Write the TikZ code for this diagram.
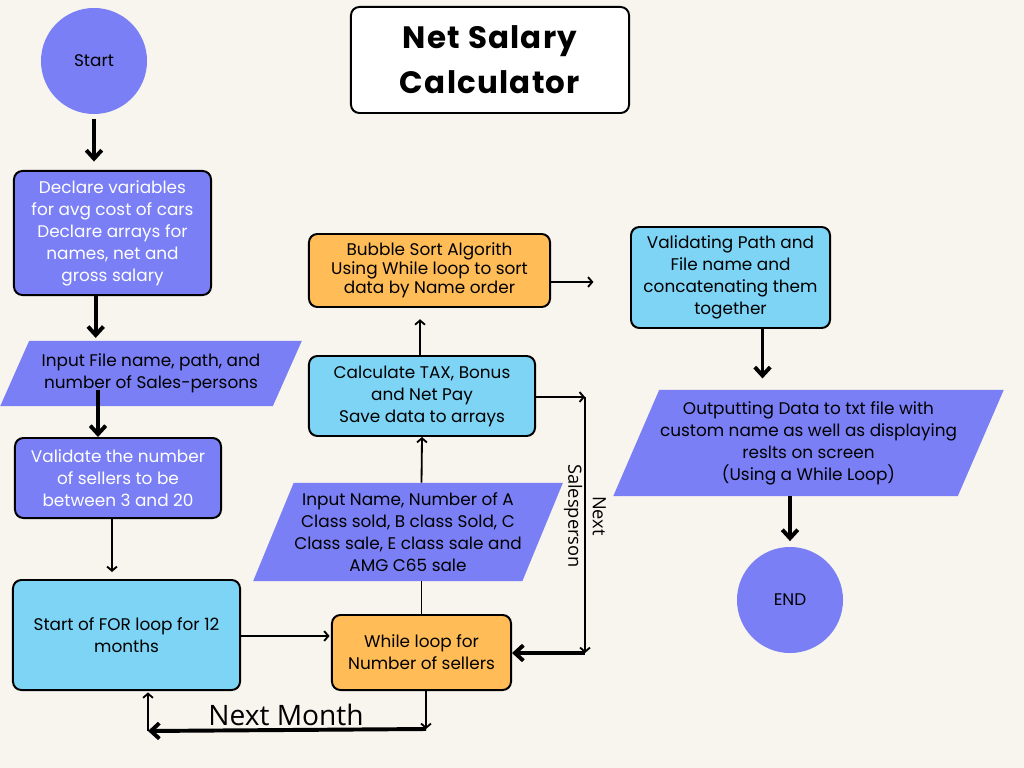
\documentclass[tikz,border=0pt]{standalone}
\usepackage{fontspec}
\setmainfont{Poppins}
\newfontfamily\titlefont[LetterSpace=4]{Poppins}
\newfontfamily\labelfont{Open Sans}
\usepackage{xcolor}
\usetikzlibrary{shapes.geometric, arrows.meta}

\definecolor{paper}{HTML}{F8F4EE}
\definecolor{periwinkle}{HTML}{7A7FF5}
\definecolor{skyblue}{HTML}{7DD4F5}
\definecolor{mango}{HTML}{FFBC57}

\begin{document}
\begin{tikzpicture}[x=0.025cm, y=-0.025cm, font=\fontsize{12}{15.6}\selectfont,
 terminal/.style = {circle, fill=periwinkle, minimum size=2.65cm, inner sep=0pt},
 process/.style = {draw, line width=1.4pt, rounded corners=6pt, align=center, inner sep=2pt},
 io/.style = {trapezium, trapezium stretches=true, fill=periwinkle, align=center, inner sep=0pt},
 thickarrow/.style = {line width=2.8pt, -{Straight Barb[length=6pt,width=11pt]}},
 thinarrow/.style = {line width=1.3pt, -{Straight Barb[length=3pt,width=7pt]}},
 flow/.style = {line width=1.3pt}]
\path[use as bounding box, fill=paper] (0,0) rectangle (1024,768);

\node[terminal] (start) at (94,61) {Start};
\node[process, fill=white, minimum width=6.95cm, minimum height=2.65cm,
  font=\titlefont\bfseries\fontsize{22}{32}\selectfont] (title) at (490,60) {Net Salary\\Calculator};
\node[process, fill=periwinkle, text=white, minimum width=4.925cm, minimum height=3.1cm] (declare) at (112.5,233)
  {Declare variables\\for avg cost of cars\\Declare arrays for\\names, net and\\gross salary};
\node[io, trapezium left angle=56.5, trapezium right angle=123.5, minimum width=7.55cm, minimum height=1.625cm] (inputfile) at (151,373.5)
  {Input File name, path, and\\number of Sales-persons};
\node[process, fill=periwinkle, text=white, minimum width=5.15cm, minimum height=2cm] (validate) at (118,478)
  {Validate the number\\of sellers to be\\between 3 and 20};
\node[process, fill=skyblue, minimum width=5.675cm, minimum height=2.75cm] (forloop) at (126.5,635)
  {Start of FOR loop for 12\\months};
\node[process, fill=mango, minimum width=4.475cm, minimum height=1.875cm] (whileloop) at (421.5,652.5)
  {While loop for\\Number of sellers};
\node[io, trapezium left angle=63, trapezium right angle=117, minimum width=7.75cm, minimum height=2.45cm] (inputsale) at (408,532)
  {Input Name, Number of A\\Class sold, B class Sold, C\\Class sale, E class sale and\\AMG C65 sale};
\node[process, fill=skyblue, minimum width=5.65cm, minimum height=2cm] (calc) at (422,396)
  {Calculate TAX, Bonus\\and Net Pay\\Save data to arrays};
\node[process, fill=mango, minimum width=6.025cm, minimum height=1.825cm, font=\fontsize{12}{13.6}\selectfont] (bubble) at (429.5,270.5)
  {Bubble Sort Algorith\\Using While loop to sort\\data by Name order};
\node[process, fill=skyblue, minimum width=4.975cm, minimum height=2.525cm] (validpath) at (730.5,277.5)
  {Validating Path and\\File name and\\concatenating them\\together};
\node[io, trapezium left angle=61.3, trapezium right angle=118.7, minimum width=9.775cm, minimum height=2.65cm] (output) at (808.5,443)
  {Outputting Data to txt file with\\custom name as well as displaying\\reslts on screen\\(Using a While Loop)};
\node[terminal] (endnode) at (790,600) {END};

\coordinate (ns1) at (585,397);
\coordinate (ns2) at (585,653);
\coordinate (nm1) at (426,729);
\coordinate (nm2) at (148,731);

\draw[thickarrow, shorten <=3pt, shorten >=6pt] (start.south) -- (start.south |- declare.north);
\draw[thickarrow, shorten >=2pt] ([xshift=-0.42cm]declare.south) -- ([xshift=-0.42cm]declare.south |- inputfile.north);
\draw[thickarrow] ([xshift=-0.5cm]validate.north |- 0,390) -- ([xshift=-0.5cm]validate.north);
\draw[thinarrow, shorten >=5pt] ([xshift=-0.15cm]validate.south) -- ([xshift=-0.15cm]validate.south |- forloop.north);
\draw[thinarrow, shorten >=1pt] (forloop.east |- 0,636) -- (whileloop.west |- 0,636);
\draw[flow] (whileloop.north) -- (whileloop.north |- inputsale.south);
\draw[thinarrow] (whileloop.north |- inputsale.north) -- (calc.south);
\draw[thinarrow, shorten >=8pt] ([xshift=-0.05cm]calc.north) -- ([xshift=-0.05cm]calc.north |- bubble.south);
\draw[thinarrow, shorten >=26pt] (bubble.east |- 0,282) -- (validpath.west |- 0,282);
\draw[thickarrow, shorten >=8pt] ([xshift=0.8cm]validpath.south) -- ([xshift=0.8cm]validpath.south |- output.north);
\draw[thickarrow, shorten >=4pt] (endnode.north |- output.south) -- (endnode.north);

% next salesperson loop
\draw[thinarrow] (calc.east |- ns1) -- (ns1);
\draw[thinarrow] (ns1) -- (ns2);
\draw[thickarrow] (ns2) -- (whileloop.east |- ns2);
\node[rotate=-90, align=center, font=\labelfont\fontsize{13}{17.5}\selectfont] (nslabel) at (585,516) {Next\\Salesperson};

% next month loop
\draw[thinarrow] (whileloop.south -| nm1) -- (nm1);
\draw[thickarrow] (nm1) -- (nm2);
\draw[thinarrow, shorten >=1pt] (nm2) -- (forloop.south -| nm2);
\node[font=\labelfont\fontsize{20}{24}\selectfont] (nmlabel) at (286,715) {Next Month};
\end{tikzpicture}
\end{document}
